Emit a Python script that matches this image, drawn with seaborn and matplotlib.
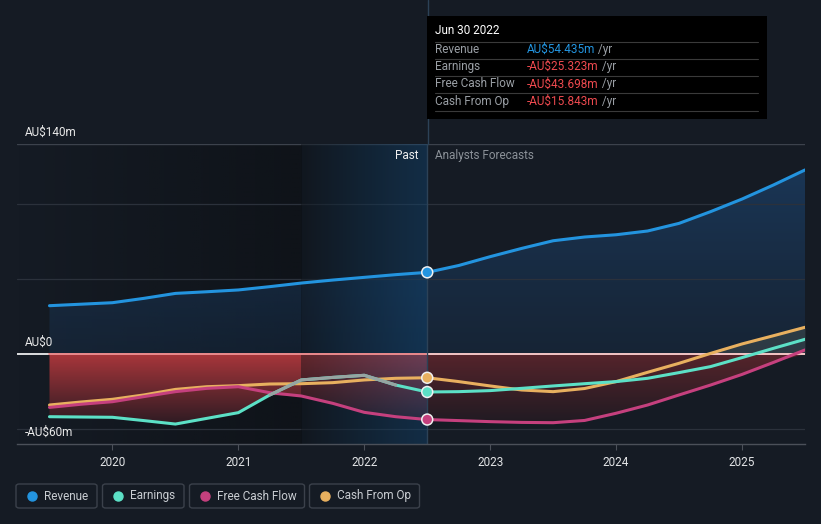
import numpy as np
import pandas as pd
import matplotlib
matplotlib.use("Agg")
import matplotlib.pyplot as plt
import seaborn as sns
from matplotlib.colors import to_rgb
from matplotlib.patches import FancyBboxPatch, Rectangle
from matplotlib.lines import Line2D

# ---------------- data ----------------
years = [2019.5, 2019.75, 2020.0, 2020.25, 2020.5, 2020.75, 2021.0, 2021.25, 2021.5,
         2021.75, 2022.0, 2022.25, 2022.5, 2022.75, 2023.0, 2023.25, 2023.5, 2023.75,
         2024.0, 2024.25, 2024.5, 2024.75, 2025.0, 2025.25, 2025.5]
revenue = [32.2, 33.2, 34.2, 37.1, 40.4, 41.5, 42.7, 44.9, 47.3, 49.3, 51.1, 52.9, 54.435,
           59.0, 64.9, 70.4, 75.5, 78.0, 79.5, 82.0, 87.1, 94.9, 103.3, 112.7, 122.7]
earnings = [-41.8, -42.0, -42.2, -44.4, -46.7, -42.9, -39.1, -27.3, -17.3, -15.6, -14.2, -20.7,
            -25.323, -25.1, -24.4, -22.9, -21.3, -19.8, -18.4, -16.2, -12.4, -8.4, -2.4, 3.8, 9.8]
fcf = [-35.6, -33.5, -31.8, -28.4, -25.1, -22.9, -21.8, -25.8, -28.0, -32.9, -38.9, -41.8,
       -43.698, -44.4, -45.1, -45.6, -45.8, -44.3, -39.5, -34.0, -27.3, -20.7, -13.6, -5.6, 2.7]
cfo = [-34.0, -32.0, -30.2, -27.3, -23.6, -21.8, -21.1, -20.0, -19.8, -19.1, -17.3, -16.2,
       -15.843, -18.4, -21.3, -24.0, -25.1, -23.0, -18.4, -12.2, -6.2, 0.4, 6.7, 12.2, 17.8]

series_names = ["Revenue", "Earnings", "Free Cash Flow", "Cash From Op"]
colors = {"Revenue": "#2394df", "Earnings": "#5ce0c6",
          "Free Cash Flow": "#c5407e", "Cash From Op": "#e8b05f"}
x_ticks = [2020, 2021, 2022, 2023, 2024, 2025]
y_labels = {140: "AU$140m", 0: "AU$0", -60: "-AU$60m"}
now_x = 2022.5
tooltip_title = "Jun 30 2022"
tooltip_rows = [("Revenue", "AU$54.435m", "#2394df"),
                ("Earnings", "-AU$25.323m", "#ee4a4f"),
                ("Free Cash Flow", "-AU$43.698m", "#ee4a4f"),
                ("Cash From Op", "-AU$15.843m", "#ee4a4f")]

df = pd.DataFrame({"year": years * 4,
                   "value": revenue + earnings + fcf + cfo,
                   "series": sum([[n] * len(years) for n in series_names], [])})

# ---------------- figure ----------------
BG = "#151b24"
W, H = 821, 524
sns.set_theme(style="dark")
plt.rcParams["font.family"] = ["Roboto", "DejaVu Sans"]
fig = plt.figure(figsize=(W / 100, H / 100), dpi=100, facecolor=BG)
ax = fig.add_axes([17 / W, 80 / H, 788 / W, 300 / H])
ax.set_facecolor(BG)
XMIN, XMAX, YMIN, YMAX = 2019.242, 2025.5, -60, 140

x = np.array(years)
rev = np.array(revenue)
neg_all = np.vstack([earnings, fcf, cfo])
low = np.minimum(0, neg_all.min(axis=0))
high_pos = np.maximum(0, neg_all.max(axis=0))


def vgrad(xs, y1, y2, c_top, c_bot, a_top, a_bot, y_top, y_bot, z):
    poly = ax.fill_between(xs, y1, y2, facecolor="none", edgecolor="none")
    path = poly.get_paths()[0]
    n = 256
    t = np.linspace(0, 1, n)[:, None]
    rgb = np.array(to_rgb(c_top)) * (1 - t) + np.array(to_rgb(c_bot)) * t
    a = a_top * (1 - t) + a_bot * t
    img = np.concatenate([rgb, a], axis=1).reshape(n, 1, 4)
    im = ax.imshow(img, extent=[min(xs), max(xs), y_bot, y_top], aspect="auto",
                   origin="upper", zorder=z, interpolation="bilinear")
    im.set_clip_path(path, transform=ax.transData)


def hgrad(x0, x1, c_l, c_r, a_l, a_r, z):
    n = 256
    t = np.linspace(0, 1, n)[None, :]
    rgb = (np.array(to_rgb(c_l))[:, None] * (1 - t) + np.array(to_rgb(c_r))[:, None] * t).T
    a = (a_l * (1 - t) + a_r * t).T
    img = np.concatenate([rgb, a], axis=1).reshape(1, n, 4)
    ax.imshow(img, extent=[x0, x1, YMIN, YMAX], aspect="auto", origin="upper",
              zorder=z, interpolation="bilinear")


# dark past background
hgrad(XMIN, 2021.5, "#0b0e12", "#0b0e12", 0.0, 0.6, 0.2)
# revenue fill
vgrad(x, 0, rev, "#1c4068", "#1a3656", 0.75, 0.35, 125, 0, 0.5)
# red fill past / forecast
mp = x <= now_x
mf = x >= now_x
vgrad(x[mp], low[mp], 0, "#a8363b", "#2a1a22", 1.0, 1.0, 0, -48, 0.6)
vgrad(x[mf], low[mf], 0, "#55242b", "#1e1a22", 1.0, 1.0, 0, -48, 0.6)
ax.fill_between(x[mf], 0, high_pos[mf], color="#4a5656", alpha=0.45, lw=0, zorder=0.7)
# highlight 'past year'
hgrad(2021.5, now_x, "#0c1218", "#0f4b7d", 0.45, 0.38, 1.5)

# grid lines
for gy in [100, 50, -50]:
    ax.axhline(gy, color="#2b313b", lw=0.9, zorder=1)
ax.axhline(140, color="#3c424c", lw=1.0, zorder=1)
ax.axhline(0, color="#ffffff", lw=1.2, zorder=2)
ax.plot([years[0], now_x], [0, 0], color="#e8777a", lw=1.2, zorder=2.1)
ax.plot([now_x, years[-1]], [0, 0], color="#f2bcbc", lw=1.2, zorder=2.1)
ax.axvline(now_x, color="#2c4257", lw=1.0, zorder=2.2)

# series lines
sns.lineplot(data=df, x="year", y="value", hue="series", palette=colors,
             hue_order=series_names[::-1], linewidth=2.2, legend=False, ax=ax)
for ln in ax.lines[-4:]:
    ln.set_zorder(4)
    ln.set_solid_capstyle("round")
# greyed earnings segment inside highlight
seg = (x >= 2021.25) & (x <= 2022.25)
ax.plot(x[seg], np.array(earnings)[seg], color="#97a4a2", lw=2.2, zorder=4.1,
        solid_capstyle="round")

# markers at current point
mk = df[df["year"] == now_x]
sns.scatterplot(data=mk, x="year", y="value", hue="series", palette=colors, s=62,
                edgecolor="#f0f0f0", linewidth=1.1, legend=False, ax=ax, zorder=6)

ax.set_xlim(XMIN, XMAX)
ax.set_ylim(YMIN, YMAX)
ax.set_xticks(x_ticks)
ax.set_xticklabels([str(v) for v in x_ticks], color="#e2e4e6", fontsize=8.5)
ax.set_yticks([])
ax.set_xlabel("")
ax.set_ylabel("")
ax.tick_params(axis="x", length=4, width=0.8, color="#4b5059", pad=5, bottom=True)
for s in ["top", "right", "left"]:
    ax.spines[s].set_visible(False)
ax.spines["bottom"].set_color("#4b5059")
ax.spines["bottom"].set_linewidth(1.0)
ax.grid(False)

# y labels
for val, lab in y_labels.items():
    py = {140: 132, 0: 342, -60: 432}[val]
    fig.text(25 / W, 1 - py / H, lab, color="#e8e8e8", fontsize=8.5, va="center", ha="left")

# Past / Analysts Forecasts
fig.text(418 / W, 1 - 156 / H, "Past", color="#f0f0f0", fontsize=8.5, ha="right", va="center")
fig.text(435 / W, 1 - 156 / H, "Analysts Forecasts", color="#8b9198", fontsize=8.5,
         ha="left", va="center")

# vertical line above plot
fig.add_artist(Line2D([427.5 / W] * 2, [380 / H, 1], color="#2c4257", lw=1.0, zorder=2))

# tooltip
fig.add_artist(Rectangle((427 / W, 1 - 119 / H), 340 / W, 103 / H, facecolor="#000000",
                         edgecolor="none", zorder=3, transform=fig.transFigure))
fig.text(435 / W, 1 - 31 / H, tooltip_title, color="#ffffff", fontsize=8.5, va="center",
         zorder=5)
for sy in [41.5, 58.5, 76, 93.3, 111]:
    fig.add_artist(Line2D([435 / W, 758 / W], [1 - sy / H] * 2, color="#3a3a3a", lw=0.8,
                          zorder=4))
for i, (lab, val, col) in enumerate(tooltip_rows):
    ry = [49.5, 66.5, 84, 101][i]
    fig.text(435 / W, 1 - ry / H, lab, color="#9a9fa5", fontsize=8.5, va="center", zorder=5)
    t = fig.text(527 / W, 1 - ry / H, val, color=col, fontsize=8.5, va="center", zorder=5)
    fig.texts.append(None) if False else None
    ann = fig.add_artist(matplotlib.text.Annotation(" /yr", xy=(1, 0.5), xycoords=t,
                                                    va="center", ha="left",
                                                    color="#9a9fa5", fontsize=8.5, zorder=5))

# legend boxes
legend_items = [("Revenue", 16, 97, 31.5, 44), ("Earnings", 102.5, 184, 118, 130),
                ("Free Cash Flow", 189.5, 304.5, 204.7, 217), ("Cash From Op", 309.5, 419.5, 324.6, 336.5)]
for name, x0, x1, dx, tx in legend_items:
    fig.add_artist(FancyBboxPatch((x0 / W, 1 - 508 / H), (x1 - x0) / W, 24 / H,
                                  boxstyle="round,pad=0,rounding_size=0.004",
                                  facecolor="none", edgecolor="#3b414b", lw=1.0,
                                  transform=fig.transFigure))
    fig.add_artist(Line2D([dx / W], [1 - 496 / H], marker="o", markersize=6.5, lw=0,
                          color=colors[name], transform=fig.transFigure))
    fig.text(tx / W, 1 - 496 / H, name, color="#c9cdd2", fontsize=8.5, va="center", ha="left")

fig.savefig("out.png", dpi=100, facecolor=BG)
